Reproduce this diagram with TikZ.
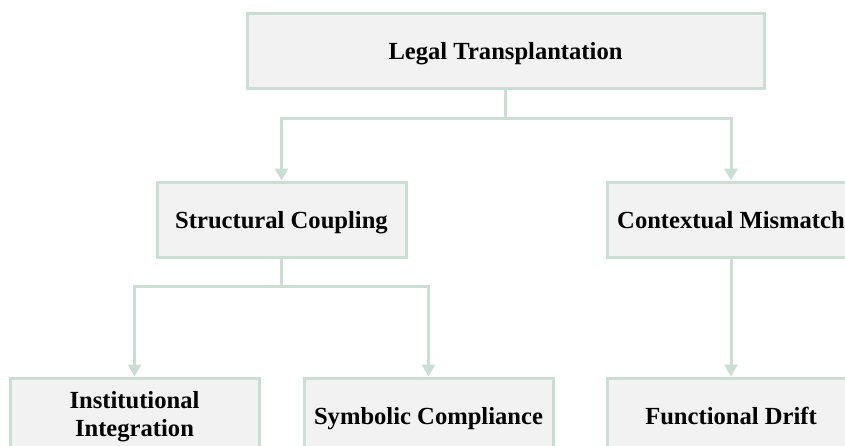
\documentclass[tikz,border=0pt]{standalone}
\usepackage{fontspec}
\setmainfont{Liberation Serif}
\usetikzlibrary{arrows.meta}
\definecolor{edgec}{RGB}{204,221,214}
\definecolor{boxfill}{RGB}{242,242,242}
\begin{document}
\begin{tikzpicture}[x=1pt,y=-1pt,
  box/.style={draw=edgec, fill=boxfill, line width=3pt, minimum height=75pt,
    inner sep=0pt, align=center, text height=17pt, text depth=0pt,
    font=\fontsize{24.6}{28}\selectfont\bfseries},
  twoline/.style={text height=45pt, text depth=3.4pt},
  conn/.style={draw=edgec, line width=3pt},
  arr/.style={conn, -{Triangle[width=13pt,length=12pt]}}]
\useasboundingbox (0,0) rectangle (845,445);
\node[box, minimum width=517pt] (top) at (505.5,50.5) {Legal Transplantation};
\node[box, minimum width=249pt] (sc) at (281.5,219.5) {Structural Coupling};
\node[box, minimum width=248pt] (cm) at (731,219.5) {Contextual Mismatch};
\node[box, twoline, minimum width=249pt] (ii) at (134.5,415.5) {Institutional\\Integration};
\node[box, minimum width=249pt] (sy) at (428.5,415.5) {Symbolic Compliance};
\node[box, minimum width=248pt] (fd) at (731,415.5) {Functional Drift};
\coordinate (j1) at (505.5,118);
\coordinate (j2) at (281.5,286);
\draw[conn] (top.south) -- (j1);
\draw[arr] (j1) -| (sc.north);
\draw[arr] (j1) -| (cm.north);
\draw[conn] (sc.south) -- (j2);
\draw[arr] (j2) -| (ii.north);
\draw[arr] (j2) -| (sy.north);
\draw[arr] (cm.south) -- (fd.north);
\end{tikzpicture}
\end{document}
